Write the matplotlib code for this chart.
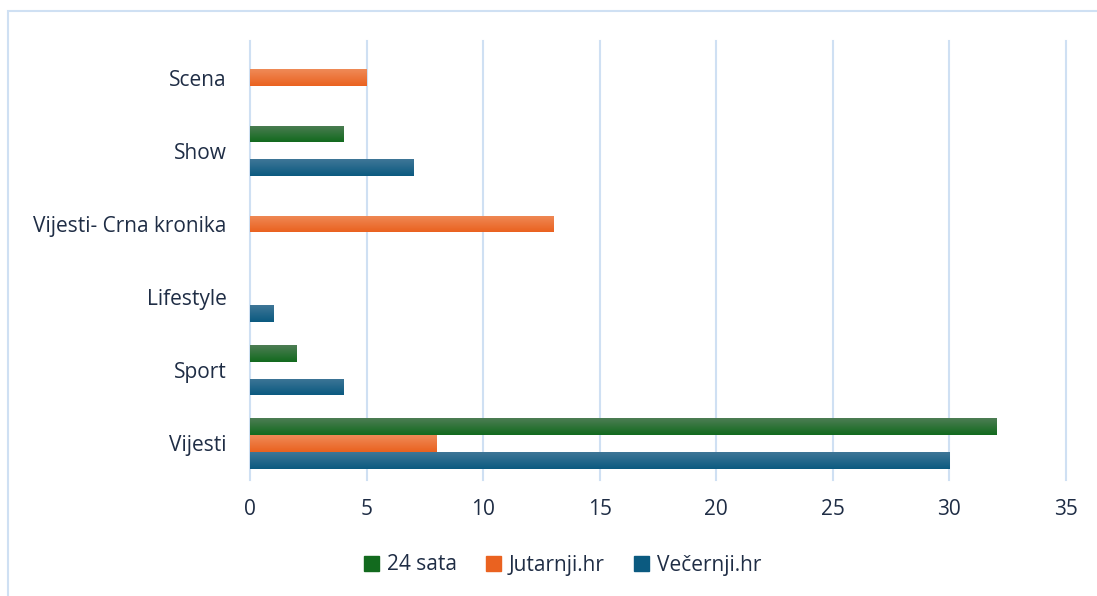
import numpy as np
import matplotlib.pyplot as plt
from matplotlib.colors import LinearSegmentedColormap
from matplotlib.patches import Patch, Rectangle

categories = ['Vijesti', 'Sport', 'Lifestyle', 'Vijesti- Crna kronika', 'Show', 'Scena']
series = ['Večernji.hr', 'Jutarnji.hr', '24 sata']
vecernji = [30, 4, 1, 0, 7, 0]
jutarnji = [8, 0, 0, 13, 0, 5]
sata24 = [32, 2, 0, 0, 4, 0]
values = [vecernji, jutarnji, sata24]
# (top, bottom) colours for the gradient
colors = [('#3f7697', '#0b5a80'), ('#ef8a57', '#ea6220'), ('#4d7d54', '#126a1e')]
xticks = [0, 5, 10, 15, 20, 25, 30, 35]

txt = '#1f2d45'
grid = '#cfe0f3'
plt.rcParams['font.family'] = ['Open Sans', 'DejaVu Sans']

fig = plt.figure(figsize=(10.97, 5.96), dpi=100)
fig.patches.append(Rectangle((8/1097, -0.1), 1.2, 1 - 11/596 + 0.1, transform=fig.transFigure,
                             fill=False, edgecolor=grid, lw=1.5))
ax = fig.add_axes([250/1097, 1 - 480/596, 816/1097, 439/596])

h = 0.23
y = np.arange(len(categories))
grad = np.linspace(1, 0, 50).reshape(-1, 1)
for i, (vals, (ctop, cbot)) in enumerate(zip(values, colors)):
    cmap = LinearSegmentedColormap.from_list('g%d' % i, [cbot, ctop])
    off = (i - 1) * h
    for yy, v in zip(y, vals):
        if v == 0:
            continue
        bars = ax.barh(yy + off, v, height=h, color=cbot, zorder=2)
        im = ax.imshow(grad, cmap=cmap, extent=[0, v, yy + off - h/2, yy + off + h/2],
                       aspect='auto', zorder=3, vmin=0, vmax=1)
        im.set_clip_path(bars[0])

ax.set_xlim(0, 35)
ax.set_ylim(-0.5, len(categories) - 0.5)
ax.set_xticks(xticks)
ax.set_yticks(y)
ax.set_yticklabels(categories)
ax.grid(axis='x', color=grid, lw=1.5, zorder=0, clip_on=False)
ax.set_axisbelow(True)
for s in ax.spines.values():
    s.set_visible(False)
ax.tick_params(length=0, labelsize=15, colors=txt)
ax.tick_params(axis='y', pad=17)
ax.tick_params(axis='x', pad=14)

handles = [Patch(color=colors[2][1], label=series[2]),
           Patch(color=colors[1][1], label=series[1]),
           Patch(color=colors[0][1], label=series[0])]
leg = fig.legend(handles=handles, loc='center', bbox_to_anchor=(0.513, 1 - 565/596), ncol=3,
                 frameon=False, fontsize=15, handlelength=0.7, handleheight=0.7,
                 handletextpad=0.4, columnspacing=1.4)
for t in leg.get_texts():
    t.set_color(txt)

fig.savefig('out.png', dpi=100)
